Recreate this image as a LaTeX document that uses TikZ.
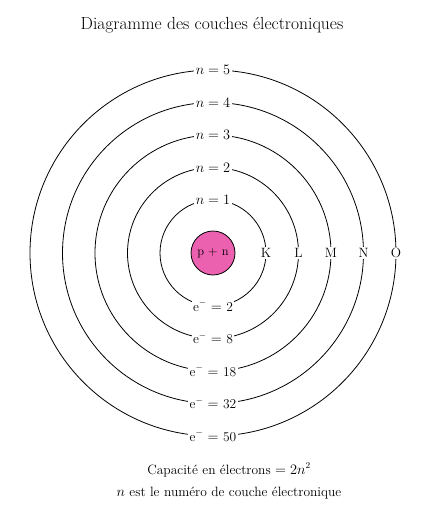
\documentclass[tikz,border=0pt]{standalone}
\usetikzlibrary{positioning}

\definecolor{noyau}{RGB}{236,96,176}

\begin{document}
\begin{tikzpicture}[x=1pt,y=-1pt,
  % styles globaux
  shell/.style={draw=black,line width=0.8pt},
  shelllabel/.style={fill=white,inner sep=1.5pt,font=\fontsize{13.5}{16}\selectfont},
  nucleus/.style={circle,draw=black,line width=0.8pt,fill=noyau,minimum size=44pt,inner sep=0pt,font=\fontsize{12.5}{15}\selectfont}]

  \useasboundingbox (0,0) rectangle (435,530);

  \node (title) at (212,25) {\fontsize{17.5}{21}\selectfont Diagramme des couches électroniques};

  % les couches
  \foreach \i/\r/\lett/\cap in {1/53/K/2,2/85.5/L/8,3/118/M/18,4/150.5/N/32,5/183/O/50}{
    \draw[shell] (213,253) circle (\r);
    \node[shelllabel] (top\i) at (213,253-\r) {$n = \i$};
    \node[shelllabel] (bot\i) at (213,253+\r) {e$^{-}$ $=$ \cap};
    \node[shelllabel,inner sep=1pt] (side\i) at (213+\r,253) {\lett};
  }

  \node[nucleus] (nuc) at (213,253) {p + n};

  \node[font=\fontsize{13.5}{16}\selectfont] (cap) at (229,470) {Capacité en électrons $= 2n^2$};
  \node[font=\fontsize{13.5}{16}\selectfont] (def) at (229,493) {$n$ est le numéro de couche électronique};
\end{tikzpicture}
\end{document}
